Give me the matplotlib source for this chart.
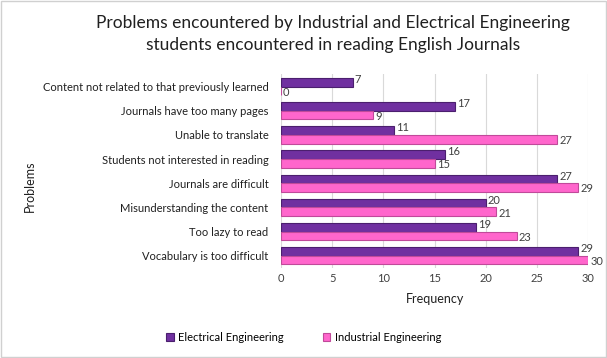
import matplotlib

matplotlib.use("Agg")
import matplotlib.pyplot as plt
import numpy as np

categories = [
    "Content not related to that previously learned",
    "Journals have too many pages",
    "Unable to translate",
    "Students not interested in reading",
    "Journals are difficult",
    "Misunderstanding the content",
    "Too lazy to read",
    "Vocabulary is too difficult",
]
electrical = [7, 17, 11, 16, 27, 20, 19, 29]
industrial = [0, 9, 27, 15, 29, 21, 23, 30]
xticks = [0, 5, 10, 15, 20, 25, 30]

plt.rcParams["font.family"] = ["Lato", "DejaVu Sans"]

fig = plt.figure(figsize=(6.07, 3.58), dpi=100)
ax = fig.add_axes([0.463, 0.252, 0.506, 0.54])

y = np.arange(len(categories))
h = 0.36
purple = "#7030A0"
pink = "#FF66CC"
ax.barh(y - h / 2, electrical, height=h, color=purple, edgecolor="#4B1F6E", linewidth=0.8,
        label="Electrical Engineering", zorder=3)
ax.barh(y + h / 2, industrial, height=h, color=pink, edgecolor="#C04A9A", linewidth=0.8,
        label="Industrial Engineering", zorder=3)

for yi, v in zip(y, electrical):
    ax.annotate(str(v), (v, yi - h / 2), xytext=(1.5, 2), textcoords="offset points",
                va="center", ha="left", fontsize=8, color="#404040")
for yi, v in zip(y, industrial):
    ax.annotate(str(v), (v, yi + h / 2), xytext=(1.5, -1), textcoords="offset points",
                va="center", ha="left", fontsize=8, color="#404040")

ax.set_ylim(len(categories) - 0.5, -0.5)
ax.set_xlim(0, 30)
ax.set_xticks(xticks)
ax.set_yticks(y)
ax.set_yticklabels(categories, fontsize=8, color="#202020")
ax.tick_params(axis="x", labelsize=8, colors="#404040", length=0, pad=4)
ax.tick_params(axis="y", length=0, pad=9)
ax.grid(axis="x", color="#D9D9D9", linewidth=0.8, zorder=0)
for s in ax.spines.values():
    s.set_visible(False)

ax.set_xlabel("Frequency", fontsize=9, color="#202020", labelpad=6)
fig.text(0.05, 0.48, "Problems", rotation=90, fontsize=9, color="#202020", ha="center", va="center")

fig.text(0.548, 0.905, "Problems encountered by Industrial and Electrical Engineering\n"
         "students encountered in reading English Journals",
         ha="center", va="center", fontsize=12.5, color="#202020", linespacing=1.45)

fig.legend(loc="center", bbox_to_anchor=(0.5, 0.058), ncol=2, frameon=False, fontsize=8,
           handlelength=0.7, handleheight=0.7, columnspacing=3.5, handletextpad=0.4)

border = plt.Rectangle((0.002, 0.003), 0.996, 0.994, transform=fig.transFigure, fill=False,
                       edgecolor="#D0D0D0", linewidth=1)
fig.add_artist(border)

fig.savefig("out.png", dpi=100)
